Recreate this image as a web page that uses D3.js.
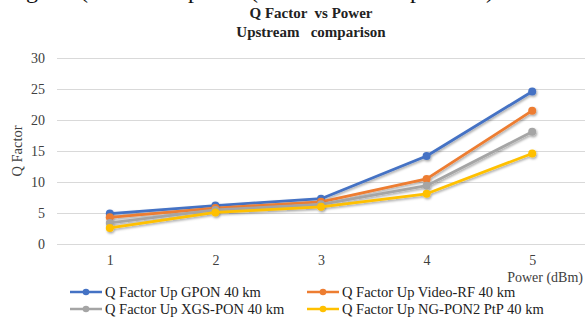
<!DOCTYPE html>
<html>
<head>
<meta charset="utf-8">
<script src="https://cdn.jsdelivr.net/npm/d3@7"></script>
<style>
  html, body { margin: 0; padding: 0; background: #fff; }
  svg { display: block; }
</style>
</head>
<body>
<svg id="chart" width="586" height="323"></svg>
<script>
// ---- data ----
const categories = [1, 2, 3, 4, 5];
const yTicks = [0, 5, 10, 15, 20, 25, 30];
const seriesNames = [
  "Q Factor Up GPON 40 km",
  "Q Factor Up Video-RF 40 km",
  "Q Factor Up XGS-PON 40 km",
  "Q Factor Up NG-PON2 PtP 40 km"
];
const gpon    = [4.9, 6.2, 7.3, 14.2, 24.6];
const videoRF = [4.3, 5.8, 6.8, 10.5, 21.5];
const xgsPon  = [3.4, 5.5, 6.4, 9.4, 18.1];
const ngPon2  = [2.6, 5.1, 6.0, 8.1, 14.6];
const seriesColors = ["#4472C4", "#ED7D31", "#A5A5A5", "#FFC000"];
const titleLines = ["Q Factor  vs Power", "Upstream   comparison"];
const captionParts = ["Figure 9", "(Factor", "upstream", "(40 km", "upstream)"];

const seriesValues = [gpon, videoRF, xgsPon, ngPon2];
const SERIF = "'Liberation Serif', 'Times New Roman', Times, 'DejaVu Serif', serif";

// ---- layout ----
const svg = d3.select("#chart");
const plotLeft = 57, plotRight = 585, plotTop = 58, plotBottom = 244;

const x = d3.scalePoint().domain(categories).range([plotLeft, plotRight]).padding(0.5);
const y = d3.scaleLinear().domain([0, 30]).range([plotBottom, plotTop]);

// clipped caption from the page above the chart (only descenders show)
const cap = svg.append("text").attr("y", -2).attr("font-size", 24)
  .attr("font-family", SERIF).attr("fill", "#111");
const capX = [6, 80, 176, 250, 398];
captionParts.forEach((p, i) => cap.append("tspan").attr("x", capX[i]).attr("y", -2).text(p));

// title
[18, 37].forEach((ty, i) => {
  svg.append("text").attr("x", 311).attr("y", ty).attr("text-anchor", "middle")
    .attr("font-family", SERIF).attr("font-size", 15).attr("font-weight", "bold")
    .attr("fill", "#222").style("white-space", "pre").text(titleLines[i]);
});

// gridlines
svg.append("g").selectAll("line").data(yTicks).join("line")
  .attr("x1", plotLeft).attr("x2", plotRight)
  .attr("y1", d => Math.round(y(d)) + 0.5).attr("y2", d => Math.round(y(d)) + 0.5)
  .attr("stroke", "#D9D9D9").attr("stroke-width", 1);

// y axis labels
const yAxis = d3.axisLeft(y).tickValues(yTicks).tickSize(0).tickPadding(0);
const gy = svg.append("g").attr("transform", `translate(45,0)`).call(yAxis)
  .attr("font-family", SERIF).attr("font-size", 14);
gy.select(".domain").remove();
gy.selectAll("text").attr("fill", "#404040");

// x axis labels
const xAxis = d3.axisBottom(x).tickSize(0).tickPadding(0);
const gx = svg.append("g").attr("transform", `translate(0,255)`).call(xAxis)
  .attr("font-family", SERIF).attr("font-size", 14);
gx.select(".domain").remove();
gx.selectAll("text").attr("fill", "#404040");

// axis titles
svg.append("text").attr("transform", "translate(22,151) rotate(-90)")
  .attr("text-anchor", "middle").attr("font-family", SERIF).attr("font-size", 14.5)
  .attr("fill", "#404040").text("Q Factor");
svg.append("text").attr("x", 583).attr("y", 282).attr("text-anchor", "end")
  .attr("font-family", SERIF).attr("font-size", 14).attr("fill", "#404040").text("Power (dBm)");

// shadow filter
const defs = svg.append("defs");
const f = defs.append("filter").attr("id", "sh").attr("x", "-20%").attr("y", "-20%")
  .attr("width", "140%").attr("height", "140%");
f.append("feDropShadow").attr("dx", 1).attr("dy", 1.5).attr("stdDeviation", 1)
  .attr("flood-color", "#000").attr("flood-opacity", 0.35);

// series
const line = d3.line().x((d, i) => x(categories[i])).y(d => y(d));
seriesValues.forEach((vals, s) => {
  const g = svg.append("g").attr("filter", "url(#sh)");
  g.append("path").datum(vals).attr("d", line).attr("fill", "none")
    .attr("stroke", seriesColors[s]).attr("stroke-width", 2.75).attr("stroke-linejoin", "round");
  g.selectAll("circle").data(vals).join("circle")
    .attr("cx", (d, i) => x(categories[i])).attr("cy", d => y(d)).attr("r", 4)
    .attr("fill", seriesColors[s]);
});

// legend
const legPos = [[70, 297], [307, 297], [70, 314], [307, 314]];
seriesNames.forEach((name, s) => {
  const [lx, ly] = legPos[s];
  const g = svg.append("g").attr("transform", `translate(${lx},${ly - 5})`);
  g.append("line").attr("x1", 0).attr("x2", 32).attr("y1", 0).attr("y2", 0)
    .attr("stroke", seriesColors[s]).attr("stroke-width", 2.5);
  g.append("circle").attr("cx", 16).attr("cy", 0).attr("r", 3.3).attr("fill", seriesColors[s]);
  g.append("text").attr("x", 35).attr("y", 5).attr("font-family", SERIF)
    .attr("font-size", 14.5).attr("fill", "#222").text(name);
});
</script>
</body>
</html>
